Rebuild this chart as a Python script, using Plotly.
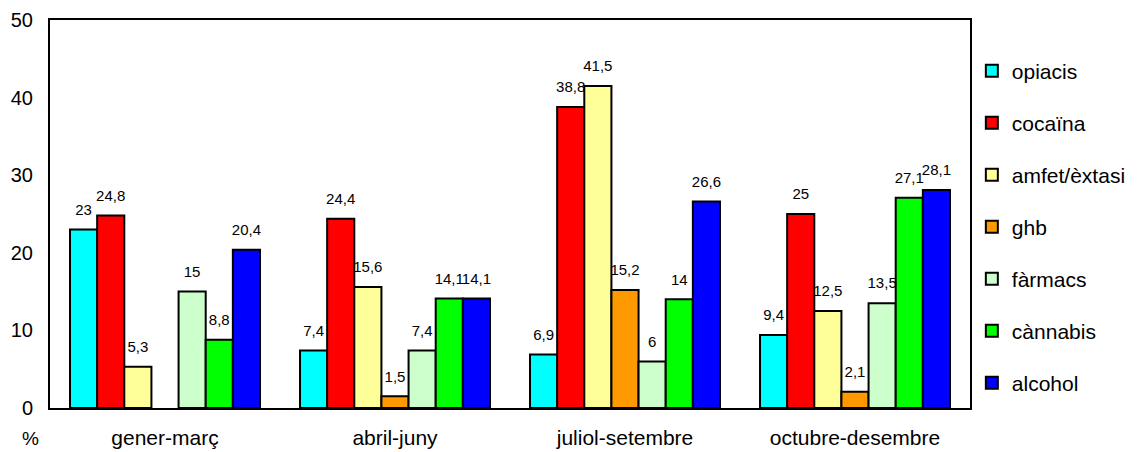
import plotly.graph_objects as go

categories = ["gener-març", "abril-juny", "juliol-setembre", "octubre-desembre"]
series_names = ["opiacis", "cocaïna", "amfet/èxtasi", "ghb", "fàrmacs", "cànnabis", "alcohol"]
opiacis = [23, 7.4, 6.9, 9.4]
cocaina = [24.8, 24.4, 38.8, 25]
amfet = [5.3, 15.6, 41.5, 12.5]
ghb = [None, 1.5, 15.2, 2.1]
farmacs = [15, 7.4, 6, 13.5]
cannabis = [8.8, 14.1, 14, 27.1]
alcohol = [20.4, 14.1, 26.6, 28.1]
y_ticks = [0, 10, 20, 30, 40, 50]

series_values = [opiacis, cocaina, amfet, ghb, farmacs, cannabis, alcohol]
colors = ["#00FFFF", "#FF0000", "#FFFF99", "#FF9900", "#CCFFCC", "#00FF00", "#0000FF"]
FONT = "Liberation Sans, Arial, sans-serif"

def fmt(v):
    if v is None:
        return ""
    return ("%g" % v).replace(".", ",")

fig = go.Figure()
for i, (name, vals, col) in enumerate(zip(series_names, series_values, colors)):
    fig.add_trace(go.Bar(
        x=categories, y=vals, name=name, legendgroup=name,
        offsetgroup=str(i),
        marker=dict(color=col, line=dict(color="black", width=2)),
        hoverinfo="x+y+name",
    ))
for i, (name, vals) in enumerate(zip(series_names, series_values)):
    fig.add_trace(go.Scatter(
        x=categories, y=vals, mode="markers+text", showlegend=False,
        offsetgroup=str(i), legendgroup=name,
        marker=dict(size=16, color="rgba(0,0,0,0)"),
        text=[fmt(v) for v in vals], textposition="top center",
        textfont=dict(size=15, color="black", family=FONT),
        cliponaxis=False, hoverinfo="skip",
    ))

fig.update_layout(
    template="none",
    width=1129, height=444,
    margin=dict(l=42, r=167, t=12, b=44, autoexpand=False),
    paper_bgcolor="white", plot_bgcolor="white",
    barmode="group", bargap=0.174, bargroupgap=0,
    scattermode="group", scattergap=0.174,
    font=dict(family=FONT, size=21, color="black"),
    showlegend=True,
    legend=dict(x=1.002, y=0.921, xanchor="left", yanchor="top",
                font=dict(size=21), tracegroupgap=21.7,
                bgcolor="rgba(0,0,0,0)", borderwidth=0),
    yaxis=dict(range=[0, 50], tickvals=y_ticks, showgrid=False, zeroline=False,
               showline=True, linecolor="black", linewidth=2, mirror=True,
               ticks="", ticklabelstandoff=11, tickfont=dict(size=20),
               automargin=False),
    xaxis=dict(showline=True, linecolor="black", linewidth=2, mirror=True,
               showgrid=False, zeroline=False,
               ticks="", tickfont=dict(size=21), ticklabelstandoff=10,
               automargin=False),
    annotations=[dict(text="%", x=-0.01, y=-0.078, xref="paper", yref="paper",
                      xanchor="right", yanchor="middle", showarrow=False,
                      font=dict(size=19))],
)

fig.write_html("out.html")
